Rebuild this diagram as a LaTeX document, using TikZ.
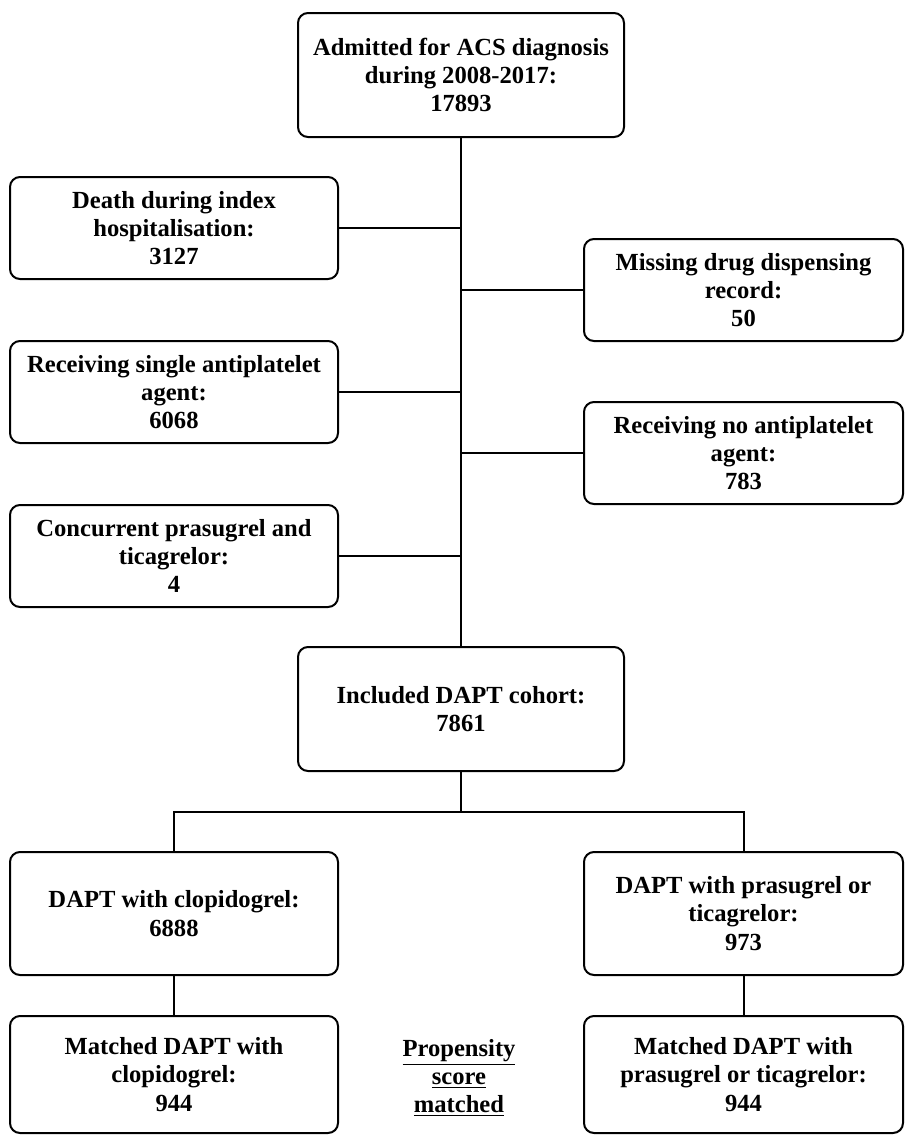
\documentclass[tikz,border=0pt]{standalone}
\usepackage{fontspec}
\setmainfont{Liberation Serif}
\usepackage{tikz}

\tikzset{
  boxnode/.style={draw,line width=1pt,rounded corners=5pt,align=center,
    inner sep=0pt,font=\fontsize{12.3}{14.1}\selectfont\bfseries},
  link/.style={draw,line width=1pt}
}

\begin{document}
\begin{tikzpicture}[x=0.5pt,y=-0.5pt]
  \useasboundingbox (0,0) rectangle (905,1136);
  \begin{scope}
    \node[boxnode,minimum width=163pt,minimum height=62pt] (admit) at (461,75)
      {Admitted for ACS diagnosis\\during 2008-2017:\\17893};

    \node[boxnode,minimum width=164pt,minimum height=51pt] (death) at (174,228)
      {Death during index\\hospitalisation:\\3127};
    \node[boxnode,minimum width=164pt,minimum height=51pt] (single) at (174,392)
      {Receiving single antiplatelet\\agent:\\6068};
    \node[boxnode,minimum width=164pt,minimum height=51pt] (concur) at (174,556)
      {Concurrent prasugrel and\\ticagrelor:\\4};

    \node[boxnode,minimum width=159.5pt,minimum height=51pt] (missing) at (743.5,290)
      {Missing drug dispensing\\record:\\50};
    \node[boxnode,minimum width=159.5pt,minimum height=51pt] (noagent) at (743.5,453)
      {Receiving no antiplatelet\\agent:\\783};

    \node[boxnode,minimum width=163pt,minimum height=62pt] (cohort) at (461,709)
      {Included DAPT cohort:\\7861};

    \node[boxnode,minimum width=164pt,minimum height=61.5pt] (clopi) at (174,913.5)
      {DAPT with clopidogrel:\\6888};
    \node[boxnode,minimum width=159.5pt,minimum height=61.5pt] (prasu) at (743.5,913.5)
      {DAPT with prasugrel or\\ticagrelor:\\973};

    \node[boxnode,minimum width=164pt,minimum height=58.5pt] (mclopi) at (174,1074.5)
      {Matched DAPT with\\clopidogrel:\\944};
    \node[boxnode,minimum width=159.5pt,minimum height=58.5pt] (mprasu) at (743.5,1074.5)
      {Matched DAPT with\\prasugrel or ticagrelor:\\944};

    \node[align=center,font=\fontsize{12.3}{14.1}\selectfont\bfseries] (psm) at (459,1078)
      {\underline{Propensity}\\\underline{score}\\\underline{matched}};

    \coordinate (split) at (461,812);

    \path[link] (admit.south) -- (cohort.north);
    \path[link] (death.east) -- (death.east -| admit.south);
    \path[link] (single.east) -- (single.east -| admit.south);
    \path[link] (concur.east) -- (concur.east -| admit.south);
    \path[link] (missing.west) -- (missing.west -| admit.south);
    \path[link] (noagent.west) -- (noagent.west -| admit.south);

    \path[link] (cohort.south) -- (split) -| (clopi.north);
    \path[link] (split) -| (prasu.north);
    \path[link] (clopi.south) -- (mclopi.north);
    \path[link] (prasu.south) -- (mprasu.north);
  \end{scope}
\end{tikzpicture}
\end{document}
